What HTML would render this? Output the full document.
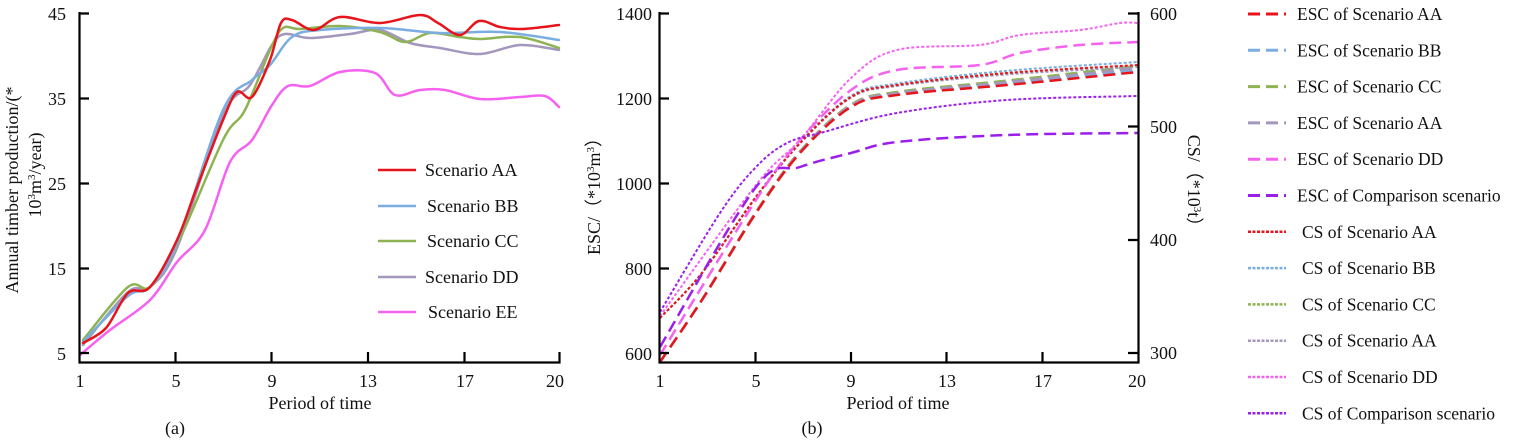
<!DOCTYPE html>
<html><head><meta charset="utf-8"><style>
html,body{margin:0;padding:0;background:#fff;}
svg{display:block;font-family:"Liberation Serif",serif;}
text{fill:#111;}
</style></head><body>
<svg id="s" width="1535" height="440" viewBox="0 0 1535 440" xmlns="http://www.w3.org/2000/svg">
<g id="curves" fill="none" stroke-linecap="round"></g>
<g stroke="#000" stroke-width="2.2" fill="none">
<path d="M79.5 12 V362.5 H559.5 V352"/>
<path d="M175.5 362 V352 M271.5 362 V352 M368 362 V352 M464.5 362 V352"/>
<path d="M79 13.5 H89 M79 98.5 H89 M79 183.5 H89 M79 268.5 H89 M79 353 H89"/>
</g>
<g font-size="18" text-anchor="end">
<text x="66" y="20">45</text><text x="66" y="105">35</text><text x="66" y="190">25</text><text x="66" y="275">15</text><text x="66" y="360">5</text>
</g>
<g font-size="18" text-anchor="middle">
<text x="80" y="387">1</text><text x="176" y="387">5</text><text x="272" y="387">9</text><text x="368" y="387">13</text><text x="465" y="387">17</text><text x="555" y="387">20</text>
<text x="320" y="409">Period of time</text>
<text x="175" y="434">(a)</text>
</g>
<text font-size="18" text-anchor="middle" transform="translate(18,190) rotate(-90)">Annual timber production/(*</text>
<text font-size="18" text-anchor="middle" transform="translate(41,175) rotate(-90)">10<tspan font-size="11" dy="-6">3</tspan><tspan dy="6">m</tspan><tspan font-size="11" dy="-6">3</tspan><tspan dy="6">/year)</tspan></text>
<g stroke-width="2.5">
<line x1="378" y1="170" x2="416" y2="170" stroke="#e8141b"/>
<line x1="378" y1="206" x2="416" y2="206" stroke="#7aaee0"/>
<line x1="378" y1="241" x2="416" y2="241" stroke="#8db352"/>
<line x1="378" y1="277" x2="416" y2="277" stroke="#a497bd"/>
<line x1="378" y1="312" x2="416" y2="312" stroke="#f562f0"/>
</g>
<g font-size="18">
<text x="425" y="176">Scenario AA</text><text x="427" y="212">Scenario BB</text><text x="427" y="247">Scenario CC</text><text x="425" y="283">Scenario DD</text><text x="428" y="318">Scenario EE</text>
</g>
<g stroke="#000" stroke-width="2.2" fill="none">
<path d="M659.5 12 V362.5 H1138.5 V12"/>
<path d="M755.5 362 V352 M851 362 V352 M946.5 362 V352 M1042.5 362 V352"/>
<path d="M659 13.5 H669 M659 98.5 H669 M659 183.5 H669 M659 268.5 H669 M659 353 H669"/>
<path d="M1138 13.5 H1128 M1138 126.5 H1128 M1138 240 H1128 M1138 353 H1128"/>
</g>
<g font-size="18" text-anchor="end">
<text x="652" y="20">1400</text><text x="652" y="105">1200</text><text x="652" y="190">1000</text><text x="652" y="275">800</text><text x="652" y="360">600</text>
</g>
<g font-size="18">
<text x="1150" y="20">600</text><text x="1150" y="133">500</text><text x="1150" y="246">400</text><text x="1150" y="359">300</text>
</g>
<g font-size="18" text-anchor="middle">
<text x="660" y="387">1</text><text x="756" y="387">5</text><text x="851" y="387">9</text><text x="947" y="387">13</text><text x="1043" y="387">17</text><text x="1137" y="387">20</text>
<text x="898" y="409">Period of time</text>
<text x="812" y="434">(b)</text>
</g>
<text font-size="18" text-anchor="middle" transform="translate(600,192) rotate(-90)">ESC/（*10<tspan font-size="11" dy="-6">3</tspan><tspan dy="6">m</tspan><tspan font-size="11" dy="-6">3</tspan><tspan dy="6">）</tspan></text>
<text font-size="18" text-anchor="middle" transform="translate(1188,185) rotate(90)">CS/（*10<tspan font-size="11" dy="-6">3</tspan><tspan dy="6">t）</tspan></text>
<g id="rleg"></g>
</svg>
<script>
function cr(p){let d="M"+p[0][0]+" "+p[0][1];for(let i=0;i<p.length-1;i++){const a=p[i-1]||p[i],b=p[i],c=p[i+1],e=p[i+2]||c;d+=" C"+(b[0]+(c[0]-a[0])/6).toFixed(1)+" "+(b[1]+(c[1]-a[1])/6).toFixed(1)+" "+(c[0]-(e[0]-b[0])/6).toFixed(1)+" "+(c[1]-(e[1]-b[1])/6).toFixed(1)+" "+c[0]+" "+c[1];}return d;}
const g=document.getElementById("curves");
function add(pts,col,w,dash){const p=document.createElementNS("http://www.w3.org/2000/svg","path");p.setAttribute("d",cr(pts));p.setAttribute("stroke",col);p.setAttribute("stroke-width",w);if(dash){p.setAttribute("stroke-dasharray",dash);p.setAttribute("stroke-linecap","butt");}g.appendChild(p);}
const R="#e8141b",B="#7aaee0",G="#8db352",P="#a497bd",K="#f562f0",V="#9b1fe8";
add([[83,345],[128,292],[150,287],[177,248],[223,115],[250,85],[272,45],[285,34],[310,38],[350,34],[380,30],[410,43],[440,48],[480,54],[520,45],[559,50]],P,2.5);
add([[83,340],[128,287],[150,287],[177,245],[223,140],[245,110],[270,50],[283,28],[300,29],[340,26],[380,32],[405,42],[430,33],[460,37],[480,39],[520,37],[559,48]],G,2.5);
add([[83,342],[128,296],[150,287],[177,243],[223,110],[252,80],[270,65],[292,37],[320,30],[380,28],[440,33],[500,32],[559,40]],B,2.5);
add([[83,343],[106,328],[128,293],[150,287],[177,240],[197,187],[223,120],[237,92],[252,97],[270,60],[281,23],[292,20],[314,30],[340,17],[380,23],[420,15],[438,23],[460,35],[479,21],[500,27],[522,29],[559,25]],R,2.5);
add([[80,355],[110,330],[150,300],[177,262],[205,230],[230,162],[252,140],[272,105],[288,86],[310,86],[340,72],[375,73],[395,95],[420,90],[445,90],[480,99],[520,97],[545,96],[559,107]],K,2.5);
function sh(pts,dy){return pts.map(q=>[q[0],q[1]+dy*(q[0]-659)/479])}
const esc=[[660,362],[702,300],[756,213],[800,153],[851,107],[897,95],[1007,85],[1138,72]];
const cs=[[660,318],[702,273],[756,197],[800,143],[851,97],[897,85],[1007,73],[1138,65]];
add(sh(esc,-2),B,2.5,"12 6");add(sh(esc,-6),G,2.5,"12 6");add(sh(esc,-4),P,2.5,"12 6");add(esc,R,2.5,"12 6");
add(sh(cs,-3),B,2,"3 2");add(sh(cs,1),G,2,"3 2");add(sh(cs,2),P,2,"3 2");add(cs,R,2,"3 2");
add([[660,355],[756,200],[800,140],[851,90],[897,70],[980,65],[1020,53],[1080,45],[1138,42]],K,2.5,"12 6");
add([[660,316],[756,185],[800,140],[851,78],[897,50],[980,45],[1020,35],[1080,30],[1120,23],[1138,23]],K,2,"3 2");
add([[660,347],[756,187],[800,167],[851,153],[897,142],[1007,135],[1138,133]],V,2.5,"12 6");
add([[660,312],[720,213],[756,167],[787,143],[824,132],[897,113],[1007,100],[1138,96]],V,2,"3 2");
const L=[["ESC of Scenario AA",R,1],["ESC of Scenario BB",B,1],["ESC of Scenario CC",G,1],["ESC of Scenario AA",P,1],["ESC of Scenario DD",K,1],["ESC of Comparison scenario",V,1],["CS of Scenario AA",R,0],["CS of Scenario BB",B,0],["CS of Scenario CC",G,0],["CS of Scenario AA",P,0],["CS of Scenario DD",K,0],["CS of Comparison scenario",V,0]];
let h="";L.forEach((l,i)=>{const y=14+i*36.3;h+=`<line x1="1248" x2="1286" y1="${y}" y2="${y}" stroke="${l[1]}" stroke-width="${l[2]?3:2.5}" stroke-dasharray="${l[2]?'12 6':'3 1.5'}"/>`;h+=`<text x="${l[2]?1297:1302}" y="${y+6}" font-size="17.5">${l[0]}</text>`;});
document.getElementById("rleg").innerHTML=h;
</script>
</body></html>
